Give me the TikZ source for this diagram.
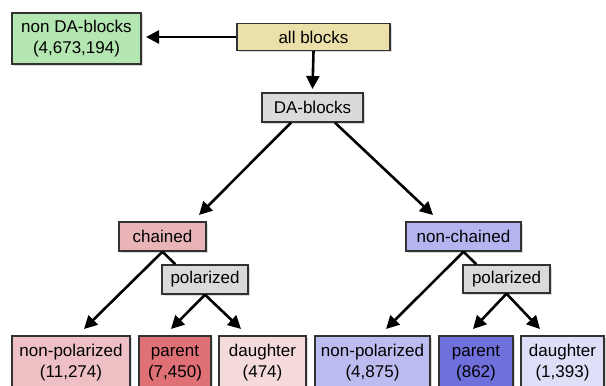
\documentclass[tikz,border=0pt]{standalone}
\usepackage{fontspec}
\setmainfont{Liberation Sans}
\usetikzlibrary{arrows.meta,shadows,calc}
\definecolor{cgreen}{RGB}{180,230,178}
\definecolor{ctan}{RGB}{236,224,170}
\definecolor{cgray}{RGB}{218,218,218}
\definecolor{cpink}{RGB}{232,180,184}
\definecolor{cpinkl}{RGB}{238,192,196}
\definecolor{cred}{RGB}{222,112,118}
\definecolor{cpinkx}{RGB}{245,218,220}
\definecolor{cblue}{RGB}{180,180,240}
\definecolor{cbluel}{RGB}{188,188,240}
\definecolor{cblued}{RGB}{112,112,220}
\definecolor{cbluex}{RGB}{222,222,248}
\definecolor{cedge}{RGB}{50,50,50}
\tikzset{
  box/.style={draw=cedge, line width=1.4pt, rectangle, inner sep=0pt, align=center,
    font=\fontsize{17}{21}\selectfont,
    drop shadow={opacity=0.3, shadow xshift=1.6pt, shadow yshift=-1.6pt}},
  conn/.style={line width=2.6pt, black},
  arr/.style={conn, -{Triangle[length=13pt,width=13pt]}}
}
\begin{document}
\begin{tikzpicture}[x=1pt,y=-1pt]
\useasboundingbox (0,0) rectangle (606,386);
\clip (0,0) rectangle (606,386);
% top
\node[box, fill=cgreen, minimum width=129pt, minimum height=51pt] (nonda) at (76.5,38.5) {non DA-blocks\\(4,673,194)};
\node[box, fill=ctan, minimum width=153pt, minimum height=27pt] (all) at (313.5,37) {all blocks};
\node[box, fill=cgray, minimum width=101pt, minimum height=29pt] (da) at (312.5,107.5) {DA-blocks};
% middle
\node[box, fill=cpink, minimum width=87pt, minimum height=29pt] (ch) at (162.5,236.5) {chained};
\node[box, fill=cgray, minimum width=86pt, minimum height=29pt] (pol1) at (205,279.5) {polarized};
\node[box, fill=cblue, minimum width=115pt, minimum height=29pt] (nch) at (463.5,236.5) {non-chained};
\node[box, fill=cgray, minimum width=87pt, minimum height=28pt] (pol2) at (506.5,279) {polarized};
% bottom
\node[box, fill=cpinkl, minimum width=118pt, minimum height=54pt] (np1) at (71,363) {non-polarized\\(11,274)};
\node[box, fill=cred, minimum width=72pt, minimum height=54pt] (p1) at (175,363) {parent\\(7,450)};
\node[box, fill=cpinkx, minimum width=87pt, minimum height=54pt] (d1) at (262.5,363) {daughter\\(474)};
\node[box, fill=cbluel, minimum width=115pt, minimum height=54pt] (np2) at (372.5,363) {non-polarized\\(4,875)};
\node[box, fill=cblued, minimum width=74pt, minimum height=54pt] (p2) at (476,363) {parent\\(862)};
\node[box, fill=cbluex, minimum width=83pt, minimum height=54pt] (d2) at (562.5,363) {daughter\\(1,393)};
% arrow tip coordinates
\coordinate (tnonda) at (146,37);
\coordinate (tda) at (312.5,89);
\coordinate (tch) at (199,215);
\coordinate (tnch) at (433,215);
\coordinate (tnp1) at (84,329);
\coordinate (tp1) at (171,329);
\coordinate (td1) at (241,329);
\coordinate (tnp2) at (386,329);
\coordinate (tp2) at (473,329);
\coordinate (td2) at (540,329);
% connectors
\draw[arr] (all.west) -- (tnonda);
\draw[arr] (all.south) -- (tda);
\draw[arr] ($(da.south)+(-21.5,0)$) -- (tch);
\draw[arr] ($(da.south)+(22.5,0)$) -- (tnch);
\draw[conn] (ch.south) -- ($(pol1.north west)+(14,0)$);
\draw[arr] (ch.south) -- (tnp1);
\draw[arr] (pol1.south) -- (tp1);
\draw[arr] (pol1.south) -- (td1);
\draw[conn] (nch.south) -- ($(pol2.north west)+(14,0)$);
\draw[arr] (nch.south) -- (tnp2);
\draw[arr] (pol2.south) -- (tp2);
\draw[arr] (pol2.south) -- (td2);
\end{tikzpicture}
\end{document}
